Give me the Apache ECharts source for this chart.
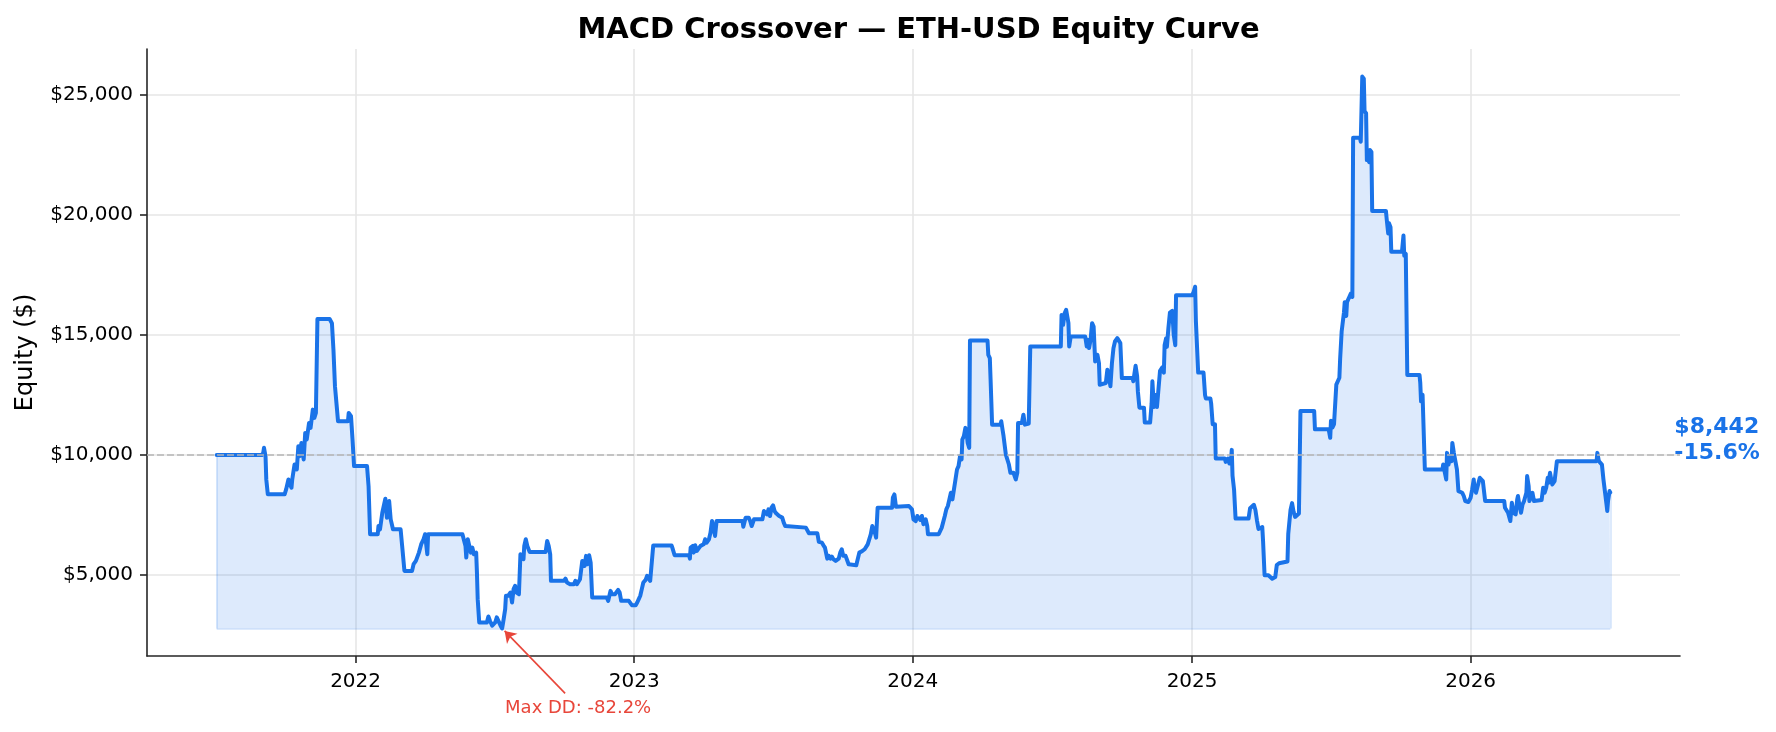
<!DOCTYPE html>
<html>
<head>
<meta charset="utf-8">
<title>MACD Crossover — ETH-USD Equity Curve</title>
<script src="https://cdn.jsdelivr.net/npm/echarts@6/dist/echarts.min.js"></script>
<style>
  html, body { margin: 0; padding: 0; background: #fff; }
  #chart { width: 1776px; height: 732px; }
</style>
</head>
<body>
<div id="chart"></div>
<script>
  // equity curve
  const dates = [
    '2021-07-03','2021-08-31','2021-09-02','2021-09-03','2021-09-05','2021-09-06','2021-09-08','2021-09-30',
    '2021-10-02','2021-10-05','2021-10-07','2021-10-09','2021-10-10','2021-10-13','2021-10-16','2021-10-18',
    '2021-10-20','2021-10-22','2021-10-25','2021-10-27','2021-10-29','2021-11-01','2021-11-03','2021-11-06',
    '2021-11-08','2021-11-10','2021-11-12','2021-11-28','2021-12-01','2021-12-03','2021-12-05','2021-12-07',
    '2021-12-09','2021-12-22','2021-12-23','2021-12-26','2021-12-28','2021-12-30',
    '2022-01-16','2022-01-18','2022-01-20','2022-01-30','2022-01-31','2022-02-02','2022-02-05','2022-02-09',
    '2022-02-11','2022-02-14','2022-02-16','2022-02-19','2022-03-01','2022-03-03','2022-03-06','2022-03-16',
    '2022-03-18','2022-03-21','2022-03-25','2022-03-28','2022-03-31','2022-04-02','2022-04-05','2022-04-06',
    '2022-05-21','2022-05-22','2022-05-25','2022-05-26','2022-05-28','2022-05-30','2022-06-01','2022-06-03',
    '2022-06-05','2022-06-08','2022-06-09','2022-06-10','2022-06-12','2022-06-22','2022-06-24','2022-06-26',
    '2022-06-29','2022-07-01','2022-07-03','2022-07-05','2022-07-07','2022-07-10','2022-07-12','2022-07-14',
    '2022-07-16','2022-07-17','2022-07-20','2022-07-23','2022-07-25','2022-07-27','2022-07-29','2022-07-31',
    '2022-08-03','2022-08-05','2022-08-07','2022-08-09','2022-08-10','2022-08-12','2022-08-14','2022-08-17',
    '2022-09-07','2022-09-09','2022-09-11','2022-09-13','2022-09-14','2022-10-01','2022-10-03','2022-10-05',
    '2022-10-07','2022-10-09','2022-10-11','2022-10-14','2022-10-16','2022-10-18','2022-10-20','2022-10-22',
    '2022-10-25','2022-10-27','2022-10-28','2022-10-30','2022-11-01','2022-11-03','2022-11-05','2022-11-07',
    '2022-11-26','2022-11-28','2022-12-01','2022-12-03','2022-12-05','2022-12-07','2022-12-09','2022-12-11',
    '2022-12-13','2022-12-15','2022-12-25','2022-12-27','2022-12-29','2022-12-31',
    '2023-01-03','2023-01-05','2023-01-07','2023-01-09','2023-01-11','2023-01-13','2023-01-16','2023-01-18',
    '2023-01-20','2023-01-22','2023-01-24','2023-01-26','2023-02-19','2023-02-20','2023-02-23','2023-03-14',
    '2023-03-15','2023-03-16','2023-03-19','2023-03-20','2023-03-22','2023-03-24','2023-03-26','2023-03-29',
    '2023-03-31','2023-04-02','2023-04-04','2023-04-06','2023-04-09','2023-04-11','2023-04-13','2023-04-15',
    '2023-04-17','2023-04-19','2023-05-23','2023-05-24','2023-05-27','2023-05-29','2023-05-31','2023-06-02',
    '2023-06-04','2023-06-07','2023-06-18','2023-06-20','2023-06-22','2023-06-24','2023-06-26','2023-06-28',
    '2023-06-30','2023-07-02','2023-07-04','2023-07-06','2023-07-10','2023-07-14','2023-07-16','2023-07-18',
    '2023-07-20','2023-08-14','2023-08-16','2023-08-18','2023-08-29','2023-08-31','2023-09-04','2023-09-06',
    '2023-09-08','2023-09-11','2023-09-13','2023-09-15','2023-09-17','2023-09-19','2023-09-22','2023-09-26',
    '2023-09-28','2023-09-30','2023-10-02','2023-10-05','2023-10-07','2023-10-09','2023-10-11','2023-10-19',
    '2023-10-21','2023-10-23','2023-10-25','2023-10-27','2023-10-30','2023-11-01','2023-11-03','2023-11-05',
    '2023-11-07','2023-11-09','2023-11-11','2023-11-13','2023-11-14','2023-11-16','2023-12-05','2023-12-06',
    '2023-12-08','2023-12-10','2023-12-12','2023-12-27','2023-12-29','2023-12-31',
    '2024-01-02','2024-01-05','2024-01-07','2024-01-09','2024-01-11','2024-01-13','2024-01-15','2024-01-18',
    '2024-01-20','2024-01-21','2024-02-04','2024-02-06','2024-02-08','2024-02-10','2024-02-12','2024-02-14',
    '2024-02-16','2024-02-18','2024-02-20','2024-02-22','2024-02-24','2024-02-26','2024-02-28','2024-03-01',
    '2024-03-03','2024-03-05','2024-03-06','2024-03-08','2024-03-10','2024-03-12','2024-03-13','2024-03-15',
    '2024-03-16','2024-04-08','2024-04-09','2024-04-11','2024-04-12','2024-04-14','2024-04-25','2024-04-26',
    '2024-04-28','2024-04-29','2024-05-02','2024-05-04','2024-05-06','2024-05-08','2024-05-12','2024-05-15',
    '2024-05-17','2024-05-18','2024-05-20','2024-05-23','2024-05-25','2024-05-27','2024-06-01','2024-06-03',
    '2024-07-13','2024-07-14','2024-07-16','2024-07-18','2024-07-20','2024-07-23','2024-07-24','2024-07-26',
    '2024-08-14','2024-08-16','2024-08-17','2024-08-19','2024-08-21','2024-08-23','2024-08-25','2024-08-27',
    '2024-08-30','2024-09-01','2024-09-02','2024-09-10','2024-09-12','2024-09-14','2024-09-16','2024-09-18',
    '2024-09-20','2024-09-22','2024-09-25','2024-09-27','2024-09-29','2024-10-01','2024-10-15','2024-10-16',
    '2024-10-19','2024-10-21','2024-10-22','2024-10-24','2024-10-30','2024-10-31','2024-11-07','2024-11-09',
    '2024-11-10','2024-11-12','2024-11-14','2024-11-16','2024-11-18','2024-11-20','2024-11-23','2024-11-25',
    '2024-11-26','2024-11-28','2024-11-29','2024-12-01','2024-12-03','2024-12-06','2024-12-08','2024-12-10',
    '2024-12-11',
    '2025-01-01','2025-01-03','2025-01-05','2025-01-06','2025-01-09','2025-01-16','2025-01-18','2025-01-19',
    '2025-01-25','2025-01-26','2025-01-28','2025-01-31','2025-02-01','2025-02-13','2025-02-14','2025-02-17',
    '2025-02-19','2025-02-21','2025-02-22','2025-02-23','2025-02-25','2025-02-27','2025-03-16','2025-03-18',
    '2025-03-20','2025-03-23','2025-03-25','2025-03-27','2025-03-29','2025-04-03','2025-04-04','2025-04-06',
    '2025-04-11','2025-04-13','2025-04-16','2025-04-20','2025-04-22','2025-04-25','2025-05-06','2025-05-07',
    '2025-05-10','2025-05-12','2025-05-14','2025-05-16','2025-05-18','2025-05-21','2025-05-23','2025-06-10',
    '2025-06-11','2025-06-29','2025-07-01','2025-07-02','2025-07-04','2025-07-06','2025-07-09','2025-07-11',
    '2025-07-13','2025-07-14','2025-07-16','2025-07-19','2025-07-20','2025-07-22','2025-07-23','2025-07-25',
    '2025-07-26','2025-07-28','2025-07-30','2025-07-31','2025-08-09','2025-08-10','2025-08-12','2025-08-14',
    '2025-08-15','2025-08-17','2025-08-18','2025-08-19','2025-08-21','2025-08-22','2025-08-24','2025-08-25',
    '2025-09-12','2025-09-13','2025-09-15','2025-09-16','2025-09-18','2025-09-19','2025-10-03','2025-10-05',
    '2025-10-06','2025-10-08','2025-10-10','2025-10-26','2025-10-27','2025-10-28','2025-10-30','2025-11-01',
    '2025-11-02','2025-11-25','2025-11-26','2025-11-28','2025-11-30','2025-12-01','2025-12-03','2025-12-05',
    '2025-12-07','2025-12-08','2025-12-10','2025-12-12','2025-12-14','2025-12-16','2025-12-18','2025-12-21',
    '2025-12-23','2025-12-25','2025-12-27','2025-12-29',
    '2026-01-01','2026-01-03','2026-01-05','2026-01-06','2026-01-08','2026-01-10','2026-01-13','2026-01-15',
    '2026-01-17','2026-01-20','2026-02-14','2026-02-15','2026-02-16','2026-02-19','2026-02-21','2026-02-22',
    '2026-02-24','2026-02-26','2026-03-01','2026-03-03','2026-03-04','2026-03-06','2026-03-08','2026-03-10',
    '2026-03-12','2026-03-15','2026-03-16','2026-03-18','2026-03-19','2026-03-21','2026-03-23','2026-03-25',
    '2026-04-04','2026-04-06','2026-04-08','2026-04-10','2026-04-12','2026-04-13','2026-04-15','2026-04-17',
    '2026-04-18','2026-04-21','2026-04-23','2026-04-24','2026-06-15','2026-06-16','2026-06-18','2026-06-20',
    '2026-06-22','2026-06-24','2026-06-26','2026-06-28','2026-06-29','2026-06-30','2026-07-02','2026-07-03'
  ];

  const equity = [
    10000, 10000, 10090, 10300, 9950, 8985, 8365, 8365,
    8570, 8985, 8780, 8640, 8985, 9605, 9400, 10370,
    9955, 10505, 9815, 10920, 10645, 11335, 11130, 11890,
    11545, 11750, 15660, 15660, 15485, 14380, 12855, 12790,
    11405, 11405, 11750, 11615, 10645, 9540,
    9540, 8710, 6705, 6705, 7050, 6910, 7600, 8180,
    7395, 8085, 7325, 6910, 6910, 6220, 5180, 5180,
    5460, 5595, 5940, 6290, 6495, 6705, 5875, 6705,
    6705, 6635, 6220, 5735, 6495, 6565, 5940, 6150,
    5870, 5940, 5110, 4005, 3035, 3035, 3285, 3105,
    2900, 2830, 3035, 3245, 3175, 2900, 2787, 3175,
    3590, 4145, 4145, 4280, 3865, 4420, 4560, 4280,
    4210, 5870, 5870, 5665, 6220, 6495, 6220, 5970,
    5970, 6425, 6220, 5870, 4765, 4765, 4860, 4695,
    4765, 4625, 4695, 4625, 4765, 4625, 4695, 4835,
    5595, 5665, 5390, 5805, 5455, 5830, 5525, 4075,
    4075, 3935, 4350, 4210, 4280, 4210, 4280, 4390,
    4280, 3935, 3935, 3865, 3755, 3730,
    3755, 3865, 4005, 4145, 4420, 4695, 4805, 4975,
    5040, 4765, 4835, 6240, 6240, 6150, 5830, 5830,
    5690, 6150, 6220, 5940, 6245, 6010, 5970, 6220,
    6150, 6285, 6495, 6355, 6495, 6770, 7255, 7185,
    6635, 7255, 7255, 7020, 7395, 7325, 7395, 7255,
    7045, 7325, 7325, 7670, 7740, 7530, 7740, 7460,
    7810, 7905, 7670, 7575, 7460, 7395, 7185, 7045,
    6980, 6980, 6910, 6745, 6745, 6385, 6355, 6245,
    6150, 5690, 5805, 5690, 5775, 5665, 5595, 5690,
    5940, 6080, 5805, 5805, 5735, 5455, 5415, 5415,
    5455, 5940, 6010, 6010, 6080, 6150, 6285, 6285,
    6700, 7045, 6980, 6700, 6565, 7810, 7810, 8225,
    8360, 7850, 7880, 7880, 7810, 7740,
    7325, 7255, 7465, 7535, 7300, 7465, 7120, 7325,
    7050, 6705, 6705, 6770, 6980, 7050, 7465, 7740,
    7880, 8155, 8430, 8155, 8570, 8985, 9400, 9540,
    9955, 9815, 10645, 10785, 11130, 10785, 10505, 10300,
    14765, 14765, 14170, 14035, 13135, 11265, 11265, 11405,
    10990, 10785, 10020, 9955, 9605, 9260, 9260, 8985,
    9260, 11335, 11405, 11335, 11680, 11265, 11310, 14515,
    14515, 15830, 15415, 15900, 16040, 15485, 14515, 14930,
    14930, 14515, 14795, 14450, 14795, 15485, 15345, 13895,
    14170, 13825, 12925, 12995, 13550, 13270, 12860, 13825,
    14450, 14725, 14865, 14930, 14655, 13200, 13200, 13070,
    13715, 13285, 12645, 11970, 11970, 11355, 11355, 12145,
    13070, 12000, 12500, 12000, 12070, 13500, 13645, 13430,
    14570, 14860, 14500, 15285, 15930, 16000, 15000, 14570,
    16645,
    16645, 16785, 17000, 15575, 13430, 13430, 12500, 12355,
    12355, 12145, 11285, 11285, 9855, 9855, 9715, 9855,
    9645, 9785, 10215, 9140, 8570, 7355, 7355, 7785,
    7855, 7930, 7715, 7285, 6925, 7000, 6425, 5000,
    5000, 4925, 4855, 4925, 5425, 5500, 5570, 6715,
    7715, 8000, 7640, 7425, 7500, 7570, 11830, 11830,
    11070, 11070, 10715, 11430, 11145, 11285, 12930, 13000,
    13215, 14000, 15145, 15930, 16360, 15785, 16360, 16430,
    16575, 16715, 16575, 23200, 23200, 23035, 25745, 25660,
    24305, 24220, 22270, 22355, 22185, 22695, 22610, 20155,
    20155, 19815, 19220, 19645, 19475, 18460, 18460, 19135,
    18290, 18375, 13330, 13330, 12995, 12235, 12510, 12510,
    9400, 9400, 9605, 9605, 8985, 10090, 9605, 9955,
    9745, 10505, 10090, 9745, 9400, 8500, 8430, 8430,
    8295, 8085, 8015, 8045,
    8225, 8570, 8985, 8640, 8430, 8430, 9055, 9125,
    8915, 8085, 8085, 7810, 7740, 7600, 7630, 7255,
    8015, 7600, 7535, 8155, 8295, 7880, 7600, 7950,
    8085, 8430, 9125, 8710, 8085, 8085, 8430, 8085,
    8130, 8640, 8430, 8640, 9055, 8845, 9260, 8915,
    8775, 8915, 8955, 9745, 9745, 10090, 9745, 9815,
    9605, 8985, 8915, 7950, 7670, 8085, 8500, 8442
  ];

  const startCapital = 10000;
  const yTicks = [5000, 10000, 15000, 20000, 25000];
  const xTicks = ['2022-01-01', '2023-01-01', '2024-01-01', '2025-01-01', '2026-01-01'];

  const BLUE = '#1a73e8';
  const RED = '#e8463a';
  const FONT = 'DejaVu Sans';

  /** 'YYYY-MM-DD' -> local timestamp */
  const ts = s => {
    const [y, m, d] = s.split('-').map(Number);
    return new Date(y, m - 1, d).getTime();
  };

  const xs = dates.map(ts);
  const points = xs.map((x, i) => [x, equity[i]]);
  const last = equity.length - 1;
  const xTickValues = xTicks.map(ts);

  // matplotlib style 5% margins
  const xPad = (xs[last] - xs[0]) * 0.05;
  const yLow = Math.min(...equity);
  const yHigh = Math.max(...equity);
  const yPad = (yHigh - yLow) * 0.05;

  // max drawdown
  let peak = equity[0], maxDD = 0, ddIdx = 0;
  equity.forEach((v, i) => {
    peak = Math.max(peak, v);
    const dd = v / peak - 1;
    if (dd < maxDD) { maxDD = dd; ddIdx = i; }
  });

  const ret = equity[last] / startCapital - 1;
  const endLabel = '$' + equity[last].toLocaleString('en-US') + '\n' +
    (ret >= 0 ? '+' : '') + (ret * 100).toFixed(1) + '%';

  const axisColor = '#262626';
  const gridColor = '#e6e6e6';
  const edgeStyle = { color: 'rgba(26, 115, 232, 0.15)', type: 'solid', width: 2 };

  const grid = { left: 147, right: 96, top: 49, bottom: 76, containLabel: false };
  const plotCenter = grid.left + (1776 - grid.left - grid.right) / 2;

  const chart = echarts.init(document.getElementById('chart'));

  const option = {
    animation: false,
    backgroundColor: '#ffffff',
    textStyle: { fontFamily: FONT },
    title: {
      text: 'MACD Crossover — ETH-USD Equity Curve',
      left: plotCenter,
      textAlign: 'center',
      top: 11,
      textStyle: { fontFamily: FONT, fontSize: 29, fontWeight: 'bold', color: '#000' },
    },
    grid: grid,
    xAxis: {
      type: 'value',
      min: xs[0] - xPad,
      max: xs[last] + xPad,
      axisLine: { onZero: false, lineStyle: { color: axisColor, width: 1.6 } },
      axisTick: { show: true, length: 7, lineStyle: { color: axisColor, width: 1.6 }, customValues: xTickValues },
      axisLabel: {
        customValues: xTickValues,
        formatter: v => String(new Date(v).getFullYear()),
        fontFamily: FONT, fontSize: 20, color: '#000', margin: 16,
      },
      splitLine: { show: true, lineStyle: { color: gridColor, width: 1.6 } },
    },
    yAxis: {
      type: 'value',
      min: yLow - yPad,
      max: yHigh + yPad,
      name: 'Equity ($)',
      nameLocation: 'middle',
      nameGap: 109,
      nameTextStyle: { fontFamily: FONT, fontSize: 24, color: '#000' },
      axisLine: { show: true, lineStyle: { color: axisColor, width: 1.6 } },
      axisTick: { show: true, length: 7, lineStyle: { color: axisColor, width: 1.6 }, customValues: yTicks },
      axisLabel: {
        customValues: yTicks,
        formatter: v => '$' + v.toLocaleString('en-US'),
        fontFamily: FONT, fontSize: 20, color: '#000', margin: 14,
      },
      splitLine: { show: true, lineStyle: { color: gridColor, width: 1.6 } },
    },
    series: [
      {
        id: 'equity',
        type: 'line',
        data: points,
        symbol: 'none',
        showSymbol: false,
        z: 3,
        lineStyle: { color: BLUE, width: 4, join: 'round', cap: 'round' },
        areaStyle: { color: 'rgba(26, 115, 232, 0.15)', opacity: 1, origin: yLow },
        markLine: {
          silent: true,
          symbol: 'none',
          label: { show: false },
          data: [
            { yAxis: startCapital, lineStyle: { color: '#b5b5b5', type: [7, 3], width: 1.6 } },
            // fill edges
            [{ coord: [xs[0], yLow], lineStyle: edgeStyle }, { coord: [xs[last], yLow] }],
            [{ coord: [xs[0], yLow], lineStyle: edgeStyle }, { coord: [xs[0], equity[0]] }],
            [{ coord: [xs[last], yLow], lineStyle: edgeStyle }, { coord: [xs[last], equity[last]] }],
          ],
        },
        markPoint: {
          silent: true,
          symbol: 'circle',
          symbolSize: 0,
          data: [
            {
              coord: points[ddIdx],
              label: {
                show: true, position: 'inside', offset: [76, 80],
                formatter: 'Max DD: ' + (maxDD * 100).toFixed(1) + '%',
                fontFamily: FONT, fontSize: 18, color: RED, align: 'center', verticalAlign: 'middle',
              },
            },
            {
              coord: points[last],
              label: {
                show: true, position: 'inside', offset: [64, -52],
                formatter: endLabel,
                fontFamily: FONT, fontSize: 22, fontWeight: 'bold', color: BLUE,
                align: 'left', verticalAlign: 'middle', lineHeight: 26,
              },
            },
          ],
        },
      },
    ],
  };

  chart.setOption(option);

  // arrow from the drawdown label to the trough, in pixel offsets like 'offset points'
  const p = chart.convertToPixel({ gridIndex: 0 }, points[ddIdx]);
  chart.setOption({
    series: [
      { id: 'equity' },
      {
        id: 'ddArrow',
        type: 'line',
        data: [],
        markLine: {
          silent: true,
          symbol: ['arrow', 'none'],
          symbolSize: 11,
          label: { show: false },
          lineStyle: { color: RED, width: 1.6, type: 'solid' },
          data: [[{ x: p[0] + 2.5, y: p[1] + 2.5 }, { x: p[0] + 63, y: p[1] + 65 }]],
        },
      },
    ],
  });
</script>
</body>
</html>
